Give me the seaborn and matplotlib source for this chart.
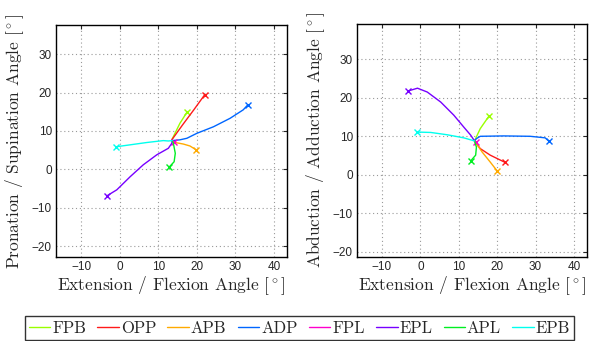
import numpy as np
import pandas as pd
import matplotlib
matplotlib.use("Agg")
import matplotlib.pyplot as plt
import seaborn as sns

muscles = ["FPB", "OPP", "APB", "ADP", "FPL", "EPL", "APL", "EPB"]
colors = ["#99ff00", "#ff1a1a", "#ffaa00", "#0066ff", "#ff00cc", "#7700ff", "#00ee22", "#00ffee"]

# left panel: flexion angle vs pronation/supination angle
fpb_fe_l = [13.5, 15.6, 17.5]
fpb_ps = [7.7, 12.0, 15.0]
opp_fe_l = [13.5, 16.3, 19.2, 22.0]
opp_ps = [7.7, 11.6, 15.5, 19.4]
apb_fe_l = [13.8, 14.4, 16.5, 18.2, 19.8]
apb_ps = [7.3, 7.0, 6.6, 6.1, 5.1]
adp_fe_l = [13.6, 15.6, 17.4, 20.0, 24.3, 28.6, 32.0, 33.2]
adp_ps = [7.5, 7.7, 8.1, 9.4, 11.1, 13.3, 15.5, 16.8]
fpl_fe_l = [13.5, 14.1]
fpl_ps = [7.4, 7.2]
epl_fe_l = [13.6, 13.5, 12.6, 9.6, 6.1, 2.7, -0.75, -3.2]
epl_ps = [7.4, 6.8, 5.5, 3.8, 1.2, -1.9, -5.3, -6.8]
apl_fe_l = [13.6, 13.9, 14.4, 14.1, 12.9]
apl_ps = [7.4, 6.8, 4.2, 2.0, 0.7]
epb_fe_l = [13.6, 12.6, 11.3, 7.0, 2.7, -0.9]
epb_ps = [7.5, 7.4, 7.5, 7.0, 6.4, 5.9]

# right panel: flexion angle vs abduction/adduction angle
fpb_fe_r = [14.1, 15.6, 17.9]
fpb_aa = [8.8, 12.0, 15.3]
opp_fe_r = [14.1, 15.6, 18.2, 22.1]
opp_aa = [8.8, 6.8, 5.1, 3.2]
apb_fe_r = [14.1, 16.1, 18.2, 20.0]
apb_aa = [8.8, 5.9, 3.3, 1.0]
adp_fe_r = [14.1, 14.6, 15.6, 21.7, 28.6, 32.5, 33.5]
adp_aa = [8.8, 9.4, 10.0, 10.1, 10.0, 9.6, 8.7]
fpl_fe_r = [14.1, 14.4]
fpl_aa = [8.8, 8.6]
epl_fe_r = [14.1, 13.1, 11.3, 8.7, 5.3, 1.8, -0.75, -3.1]
epl_aa = [8.8, 10.3, 12.4, 15.5, 18.9, 21.5, 22.5, 21.8]
apl_fe_r = [14.1, 14.6, 14.4, 13.1]
apl_aa = [8.8, 7.2, 5.1, 3.6]
epb_fe_r = [14.1, 11.3, 7.0, 2.7, -0.75]
epb_aa = [8.8, 9.6, 10.4, 11.0, 11.1]

left_x = [fpb_fe_l, opp_fe_l, apb_fe_l, adp_fe_l, fpl_fe_l, epl_fe_l, apl_fe_l, epb_fe_l]
left_y = [fpb_ps, opp_ps, apb_ps, adp_ps, fpl_ps, epl_ps, apl_ps, epb_ps]
right_x = [fpb_fe_r, opp_fe_r, apb_fe_r, adp_fe_r, fpl_fe_r, epl_fe_r, apl_fe_r, epb_fe_r]
right_y = [fpb_aa, opp_aa, apb_aa, adp_aa, fpl_aa, epl_aa, apl_aa, epb_aa]

sns.set_style("white")
plt.rcParams["mathtext.fontset"] = "cm"
plt.rcParams["axes.formatter.use_mathtext"] = False

fig = plt.figure(figsize=(5.99, 3.41), dpi=100)
ax1 = fig.add_axes([0.0935, 0.246, 0.386, 0.680])
ax2 = fig.add_axes([0.596, 0.247, 0.384, 0.684])


def draw(ax, xs, ys, ylim, ylabel):
    for name, c, x, y in zip(muscles, colors, xs, ys):
        df = pd.DataFrame({"x": x, "y": y})
        sns.lineplot(data=df, x="x", y="y", sort=False, estimator=None, color=c,
                     lw=1.0, ax=ax, label=name, legend=False)
        ax.plot(x[-1], y[-1], marker="x", color=c, ms=5, mew=1.0, ls="none")
    ax.set_xlim(-16.5, 43.4)
    ax.set_ylim(*ylim)
    ax.set_xticks([-10, 0, 10, 20, 30, 40])
    ax.set_yticks([-20, -10, 0, 10, 20, 30])
    ax.grid(True, ls=(0, (1, 2.5)), color="#999999", lw=0.8)
    ax.tick_params(direction="in", top=True, right=True, length=3, labelsize=8.5, pad=3)
    for lab in ax.get_xticklabels() + ax.get_yticklabels():
        lab.set_fontfamily("Liberation Sans")
    for s in ax.spines.values():
        s.set_color("black")
        s.set_linewidth(1.0)
    ax.set_xlabel(r"Extension / Flexion Angle $[^\circ]$", family="cmr10", fontsize=12.5, labelpad=1)
    ax.set_ylabel(ylabel, family="cmr10", fontsize=12.5, labelpad=4)


draw(ax1, left_x, left_y, (-22.8, 37.5), r"Pronation / Supination Angle $[^\circ]$")
draw(ax2, right_x, right_y, (-21.3, 39.3), r"Abduction / Adduction Angle $[^\circ]$")

handles, labels = ax1.get_legend_handles_labels()
leg = fig.legend(handles, labels, loc="center", bbox_to_anchor=(0.5, 0.038), ncol=8,
                 prop={"family": "cmr10", "size": 12}, frameon=True, fancybox=False,
                 handlelength=1.3, handletextpad=0.1, columnspacing=0.68, borderpad=0.25)
leg.get_frame().set_edgecolor("black")
leg.get_frame().set_linewidth(1.0)

fig.savefig("out.png", dpi=100)
